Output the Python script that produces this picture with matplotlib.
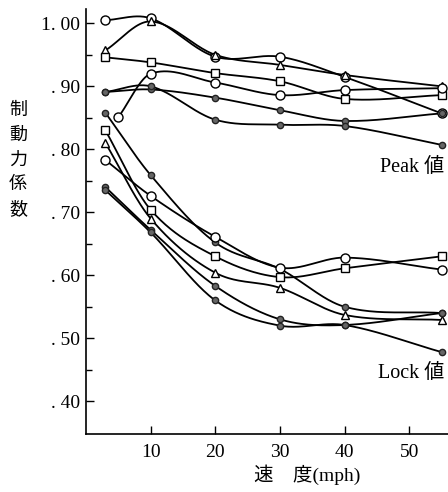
import matplotlib.pyplot as plt
import numpy as np

plt.rcParams['font.family'] = ['Liberation Serif', 'Noto Sans CJK JP', 'DejaVu Sans']

# speeds (mph)
x_std = [3, 10, 20, 30, 40, 55]
x_late = [5, 10, 20, 30, 40, 55]

# Peak values
peak_circle_top = [1.005, 1.008, 0.947, 0.947, 0.915, 0.857]
peak_triangle = [0.957, 1.003, 0.950, 0.934, 0.918, 0.900]
peak_square = [0.946, 0.938, 0.921, 0.908, 0.880, 0.886]
peak_circle = [0.851, 0.920, 0.906, 0.886, 0.894, 0.897]
peak_dot1 = [0.891, 0.895, 0.882, 0.862, 0.845, 0.857]
peak_dot2 = [0.891, 0.900, 0.847, 0.839, 0.837, 0.807]

# Lock values
lock_dot = [0.858, 0.759, 0.652, 0.610, 0.550, 0.540]
lock_circle = [0.783, 0.726, 0.661, 0.612, 0.628, 0.609]
lock_square = [0.830, 0.704, 0.630, 0.597, 0.611, 0.630]
lock_triangle = [0.810, 0.690, 0.604, 0.580, 0.537, 0.529]
lock_dot1 = [0.740, 0.672, 0.583, 0.530, 0.521, 0.540]
lock_dot2 = [0.735, 0.668, 0.560, 0.520, 0.521, 0.478]


def smooth(x, y, n=40):
    # cubic Hermite curve through the read points (just for drawing)
    x = np.asarray(x, float)
    y = np.asarray(y, float)
    m = np.zeros_like(y)
    m[1:-1] = (y[2:] - y[:-2]) / (x[2:] - x[:-2])
    m[0] = (y[1] - y[0]) / (x[1] - x[0])
    m[-1] = (y[-1] - y[-2]) / (x[-1] - x[-2])
    xs, ys = [], []
    t = np.linspace(0, 1, n)
    for i in range(len(x) - 1):
        h = x[i + 1] - x[i]
        h00 = 2 * t**3 - 3 * t**2 + 1
        h10 = t**3 - 2 * t**2 + t
        h01 = -2 * t**3 + 3 * t**2
        h11 = t**3 - t**2
        xs.append(x[i] + t * h)
        ys.append(h00 * y[i] + h10 * h * m[i] + h01 * y[i + 1] + h11 * h * m[i + 1])
    return np.concatenate(xs), np.concatenate(ys)


styles = {
    'circle': dict(marker='o', mfc='white', mec='black', ms=6.5),
    'square': dict(marker='s', mfc='white', mec='black', ms=5.5),
    'triangle': dict(marker='^', mfc='white', mec='black', ms=6),
    'dot': dict(marker='o', mfc='#666666', mec='#222222', ms=4.5),
}

series = [
    (x_std, peak_circle_top, 'circle'), (x_std, peak_triangle, 'triangle'),
    (x_std, peak_square, 'square'), (x_late, peak_circle, 'circle'),
    (x_std, peak_dot1, 'dot'), (x_std, peak_dot2, 'dot'),
    (x_std, lock_dot, 'dot'), (x_std, lock_circle, 'circle'),
    (x_std, lock_square, 'square'), (x_std, lock_triangle, 'triangle'),
    (x_std, lock_dot1, 'dot'), (x_std, lock_dot2, 'dot'),
]

fig = plt.figure(figsize=(4.48, 4.92), dpi=100)
ax = fig.add_axes([0.192, 0.118, 0.808, 0.864])

for xs, ys, kind in series:
    sx, sy = smooth(xs, ys)
    ax.plot(sx, sy, color='black', lw=1.3, zorder=2)
    ax.plot(xs, ys, ls='none', zorder=3, **styles[kind])

ax.set_xlim(0, 56)
ax.set_ylim(0.348, 1.023)
ax.set_xticks([10, 20, 30, 40, 50])
ax.set_yticks([1.0, 0.9, 0.8, 0.7, 0.6, 0.5, 0.4])
ax.set_yticklabels(['1. 00', '. 90', '. 80', '. 70', '. 60', '. 50', '. 40'])
ax.set_yticks(np.arange(0.45, 1.0, 0.1), minor=True)
ax.tick_params(axis='both', direction='in', length=6, width=1, labelsize=14)
ax.tick_params(axis='y', which='minor', direction='in', length=4, width=1)
ax.tick_params(axis='x', pad=7)
ax.tick_params(axis='y', pad=4)
ax.spines['top'].set_visible(False)
ax.spines['right'].set_visible(False)
ax.spines['left'].set_linewidth(1.2)
ax.spines['bottom'].set_linewidth(1.2)

ax.text(0.99, 0.628, 'Peak 値', transform=ax.transAxes, ha='right', va='center', fontsize=14.5)
ax.text(0.99, 0.143, 'Lock 値', transform=ax.transAxes, ha='right', va='center', fontsize=14.5)

fig.text(0.04, 0.675, '制\n動\n力\n係\n数', ha='center', va='center', fontsize=13,
         linespacing=1.6)
fig.text(0.685, 0.035, '速　度(mph)', ha='center', va='center', fontsize=14)

fig.savefig('out.png', dpi=100)
